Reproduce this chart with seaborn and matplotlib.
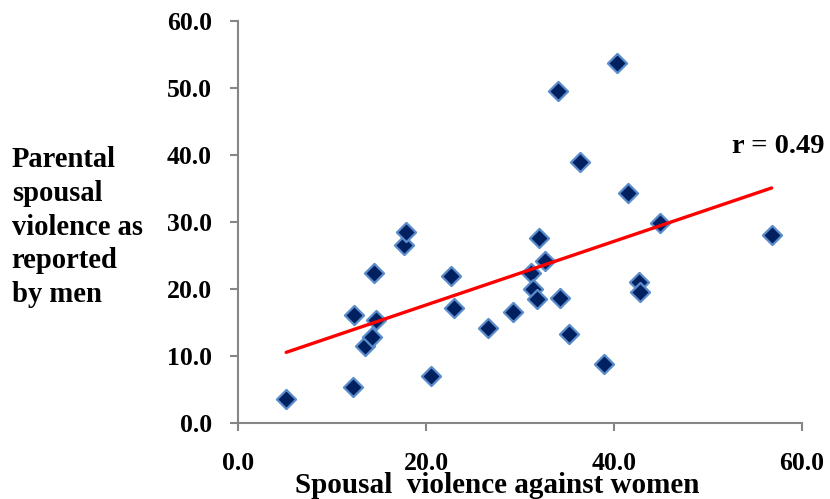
import matplotlib
matplotlib.use("Agg")
import matplotlib.pyplot as plt
import seaborn as sns
import pandas as pd

# values
women_violence = [5.1, 12.25, 12.3, 13.5, 14.2, 14.7, 14.45, 17.6, 17.9, 20.5,
                  22.7, 22.95, 26.6, 29.25, 31.2, 31.35, 31.8, 32.7, 32.05, 34.3,
                  35.25, 38.9, 42.7, 42.8, 56.8, 44.9, 40.3, 34.0, 36.4, 41.5]
parental_violence = [3.6, 5.45, 16.2, 11.5, 12.9, 15.4, 22.4, 26.6, 28.6, 7.05,
                     21.9, 17.15, 14.2, 16.55, 22.4, 20.1, 18.5, 24.15, 27.7, 18.7,
                     13.35, 8.85, 21.0, 19.6, 28.1, 29.8, 53.7, 49.6, 39.0, 34.4]
tick_values = [0, 20, 40, 60]
ytick_values = [0, 10, 20, 30, 40, 50, 60]
r_label = "r = 0.49"

df = pd.DataFrame({"women": women_violence, "parental": parental_violence})

sns.set_style("ticks")
plt.rcParams["font.family"] = ["Liberation Serif", "DejaVu Serif"]
plt.rcParams["font.weight"] = "bold"
plt.rcParams["text.color"] = "black"

grey = "#868686"

fig = plt.figure(figsize=(8.3, 4.99), dpi=100)
ax = fig.add_axes([0.2871, 0.1517, 0.6788, 0.8062])

sns.scatterplot(data=df, x="women", y="parental", marker="D", s=95,
                color="#002060", edgecolor="#5b8ccc", linewidth=1.6,
                ax=ax, zorder=3, legend=False)
sns.regplot(data=df, x="women", y="parental", scatter=False, ci=None,
            truncate=True, color="#ff0000", line_kws={"lw": 2.4, "zorder": 4},
            ax=ax)

ax.set_xlim(0, 60)
ax.set_ylim(0, 60)
ax.set_xticks(tick_values)
ax.set_xticklabels([f"{v:.1f}" for v in tick_values])
ax.set_yticks(ytick_values)
ax.set_yticklabels([f"{v:.1f}" for v in ytick_values])
ax.set_xlabel("")
ax.set_ylabel("")

for side in ["top", "right"]:
    ax.spines[side].set_visible(False)
for side in ["left", "bottom"]:
    ax.spines[side].set_color(grey)
    ax.spines[side].set_linewidth(1.5)

ax.tick_params(axis="both", length=6, width=1.5, color=grey, labelsize=18.5,
               labelcolor="black")
ax.tick_params(axis="y", pad=13)
ax.tick_params(axis="x", pad=15)
for lab in ax.get_xticklabels() + ax.get_yticklabels():
    lab.set_fontweight("bold")

fig.text(0.5994, 0.012, "Spousal  violence against women", ha="center",
         va="baseline", fontsize=21, fontweight="bold", color="black")
fig.text(0.0141, 0.545, "Parental\nspousal\nviolence as\nreported\nby men",
         ha="left", va="center", fontsize=20.6, fontweight="bold",
         linespacing=1.33, color="black")
fig.text(0.8816, 0.6934, r_label, ha="left", va="baseline", fontsize=20.5,
         fontweight="bold", color="black")

fig.savefig("out.png", dpi=100)
